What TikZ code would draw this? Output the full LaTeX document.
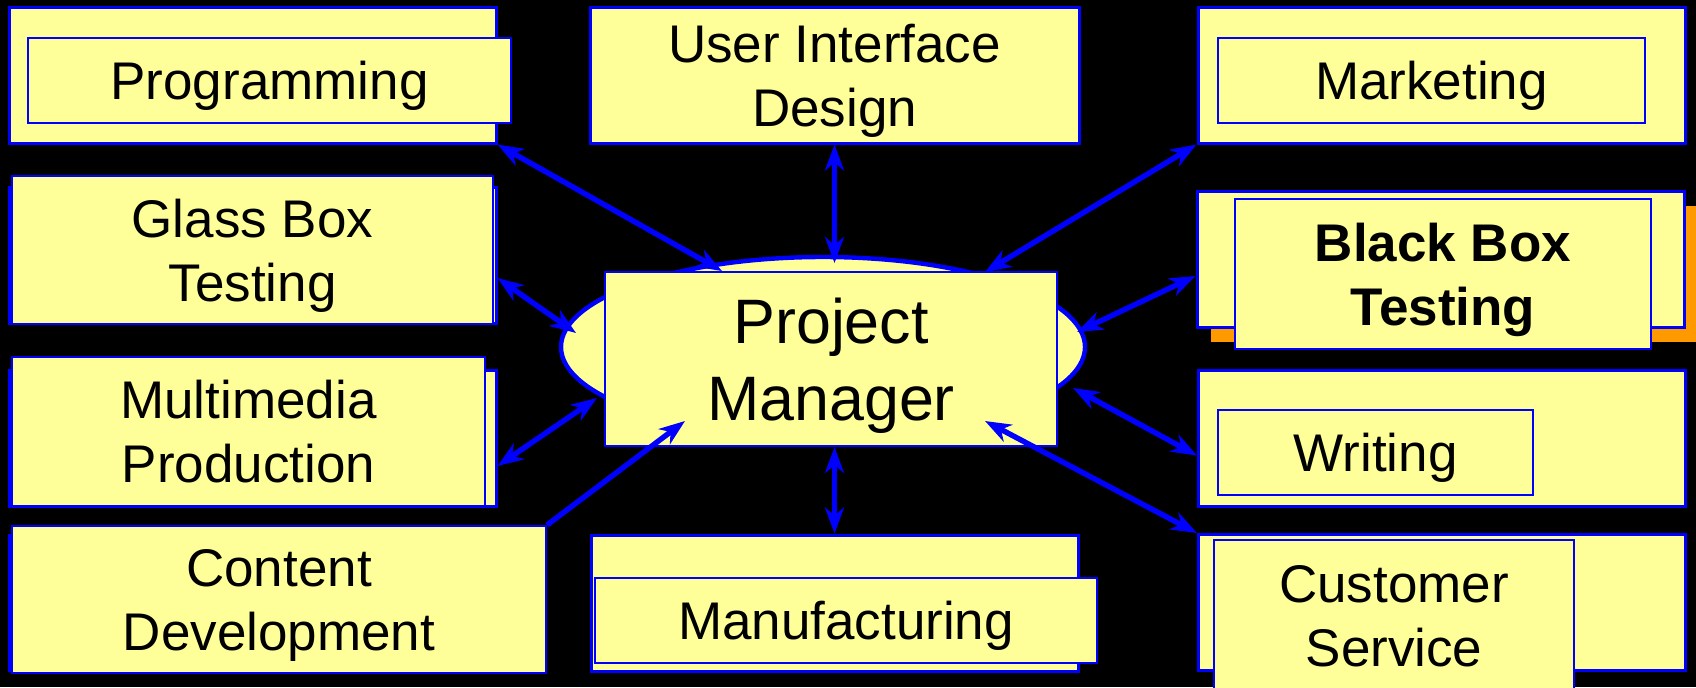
\documentclass[tikz,border=0pt]{standalone}
\usepackage{fontspec}
\setmainfont{Liberation Sans}
\usetikzlibrary{shapes.geometric,arrows.meta,calc}
\definecolor{pad}{HTML}{FFFF99}
\definecolor{bluelink}{HTML}{0000FF}
\definecolor{shade}{HTML}{FF9900}
\begin{document}
\begin{tikzpicture}[x=.5pt,y=-.5pt,>={Stealth[length=13pt,width=9.5pt,inset=4pt]},
		back/.style={draw=bluelink,fill=pad,line width=1.5pt,inner sep=0pt,minimum width=243.5pt,minimum height=68pt},
		front/.style={draw=bluelink,fill=pad,line width=1pt,inner sep=0pt,text depth=0pt,align=center,font=\fontsize{26.5}{32}\selectfont},
		link/.style={draw=bluelink,line width=2.7pt}]
	\fill[black,use as bounding box] (0,0) rectangle (1696,687);
	% left column
	\node[back] (progb) at (252.5,75) {};
	\node[front,minimum width=241.5pt,minimum height=42.5pt] (prog) at (269.5,80.5) {Programming};
	\node[back] (glassb) at (252.5,255) {};
	\node[front,minimum width=240.5pt,minimum height=74pt] (glass) at (252.5,250) {Glass Box\\Testing};
	\node[back] (multib) at (252.5,438) {};
	\node[front,minimum width=236.5pt,minimum height=74.5pt] (multi) at (248.5,431.5) {Multimedia\\Production};
	\node[back,minimum width=265.5pt,minimum height=67.5pt] (contb) at (274.5,602.5) {};
	\node[front,minimum width=267pt,minimum height=73.5pt] (cont) at (279,599.5) {Content\\Development};
	% middle column
	\node[front,line width=1.5pt,minimum width=244.5pt,minimum height=68pt] (ui) at (834.5,75) {User Interface\\Design};
	\node[back] (manufb) at (834.5,603) {};
	\node[front,minimum width=251pt,minimum height=42.5pt] (manuf) at (846,620.5) {Manufacturing};
	% right column
	\node[back] (marketb) at (1441.5,75) {};
	\node[front,minimum width=213.5pt,minimum height=42.5pt] (market) at (1431.5,80.5) {Marketing};
	\node[back,draw=none,fill=shade] (bbshade) at (1454.5,273.5) {};
	\node[back] (bbb) at (1440.5,259.5) {};
	\node[front,minimum width=208pt,minimum height=75pt,font=\fontsize{26.5}{32}\selectfont\bfseries] (bb) at (1443,274) {Black Box\\Testing};
	\node[back] (writeb) at (1442,438.5) {};
	\node[front,minimum width=157.5pt,minimum height=42.5pt] (write) at (1375.5,452.5) {Writing};
	\node[back] (custb) at (1442,602.5) {};
	\node[front,minimum width=180pt,minimum height=76pt] (cust) at (1394,616) {Customer\\Service};
	% hub
	\node[ellipse,draw=bluelink,fill=pad,line width=2.2pt,inner sep=0pt,minimum width=262pt,minimum height=90pt] (pmell) at (823,347) {};
	\node[front,minimum width=226pt,minimum height=87pt,font=\fontsize{31.4}{38.5}\selectfont] (pm) at (831,359) {Project\\Manager};
	% links
	\draw[link,<->] (progb.south east) -- ($(pm)+(-109,-88)$);
	\draw[link,<->] (ui.south) -- ($(pm)+(3.5,-96)$);
	\draw[link,<->] (marketb.south west) -- ($(pm)+(154,-87)$);
	\draw[link,<->] ($(glassb.east)+(0,23)$) -- ($(pm)+(-255,-26)$);
	\draw[link,<->] ($(multib.east)+(0,28)$) -- ($(pm)+(-234,39)$);
	\draw[link,->] (cont.north east) -- ($(pm)+(-146,62)$);
	\draw[link,<->] (manufb.north) -- ($(pm)+(3.5,88)$);
	\draw[link,<->] ($(bbb.west)+(0,16.5)$) -- ($(pm)+(246,-27)$);
	\draw[link,<->] ($(writeb.west)+(0,17)$) -- ($(pm)+(242,29)$);
	\draw[link,<->] (custb.north west) -- ($(pm)+(154,62)$);
\end{tikzpicture}
\end{document}
